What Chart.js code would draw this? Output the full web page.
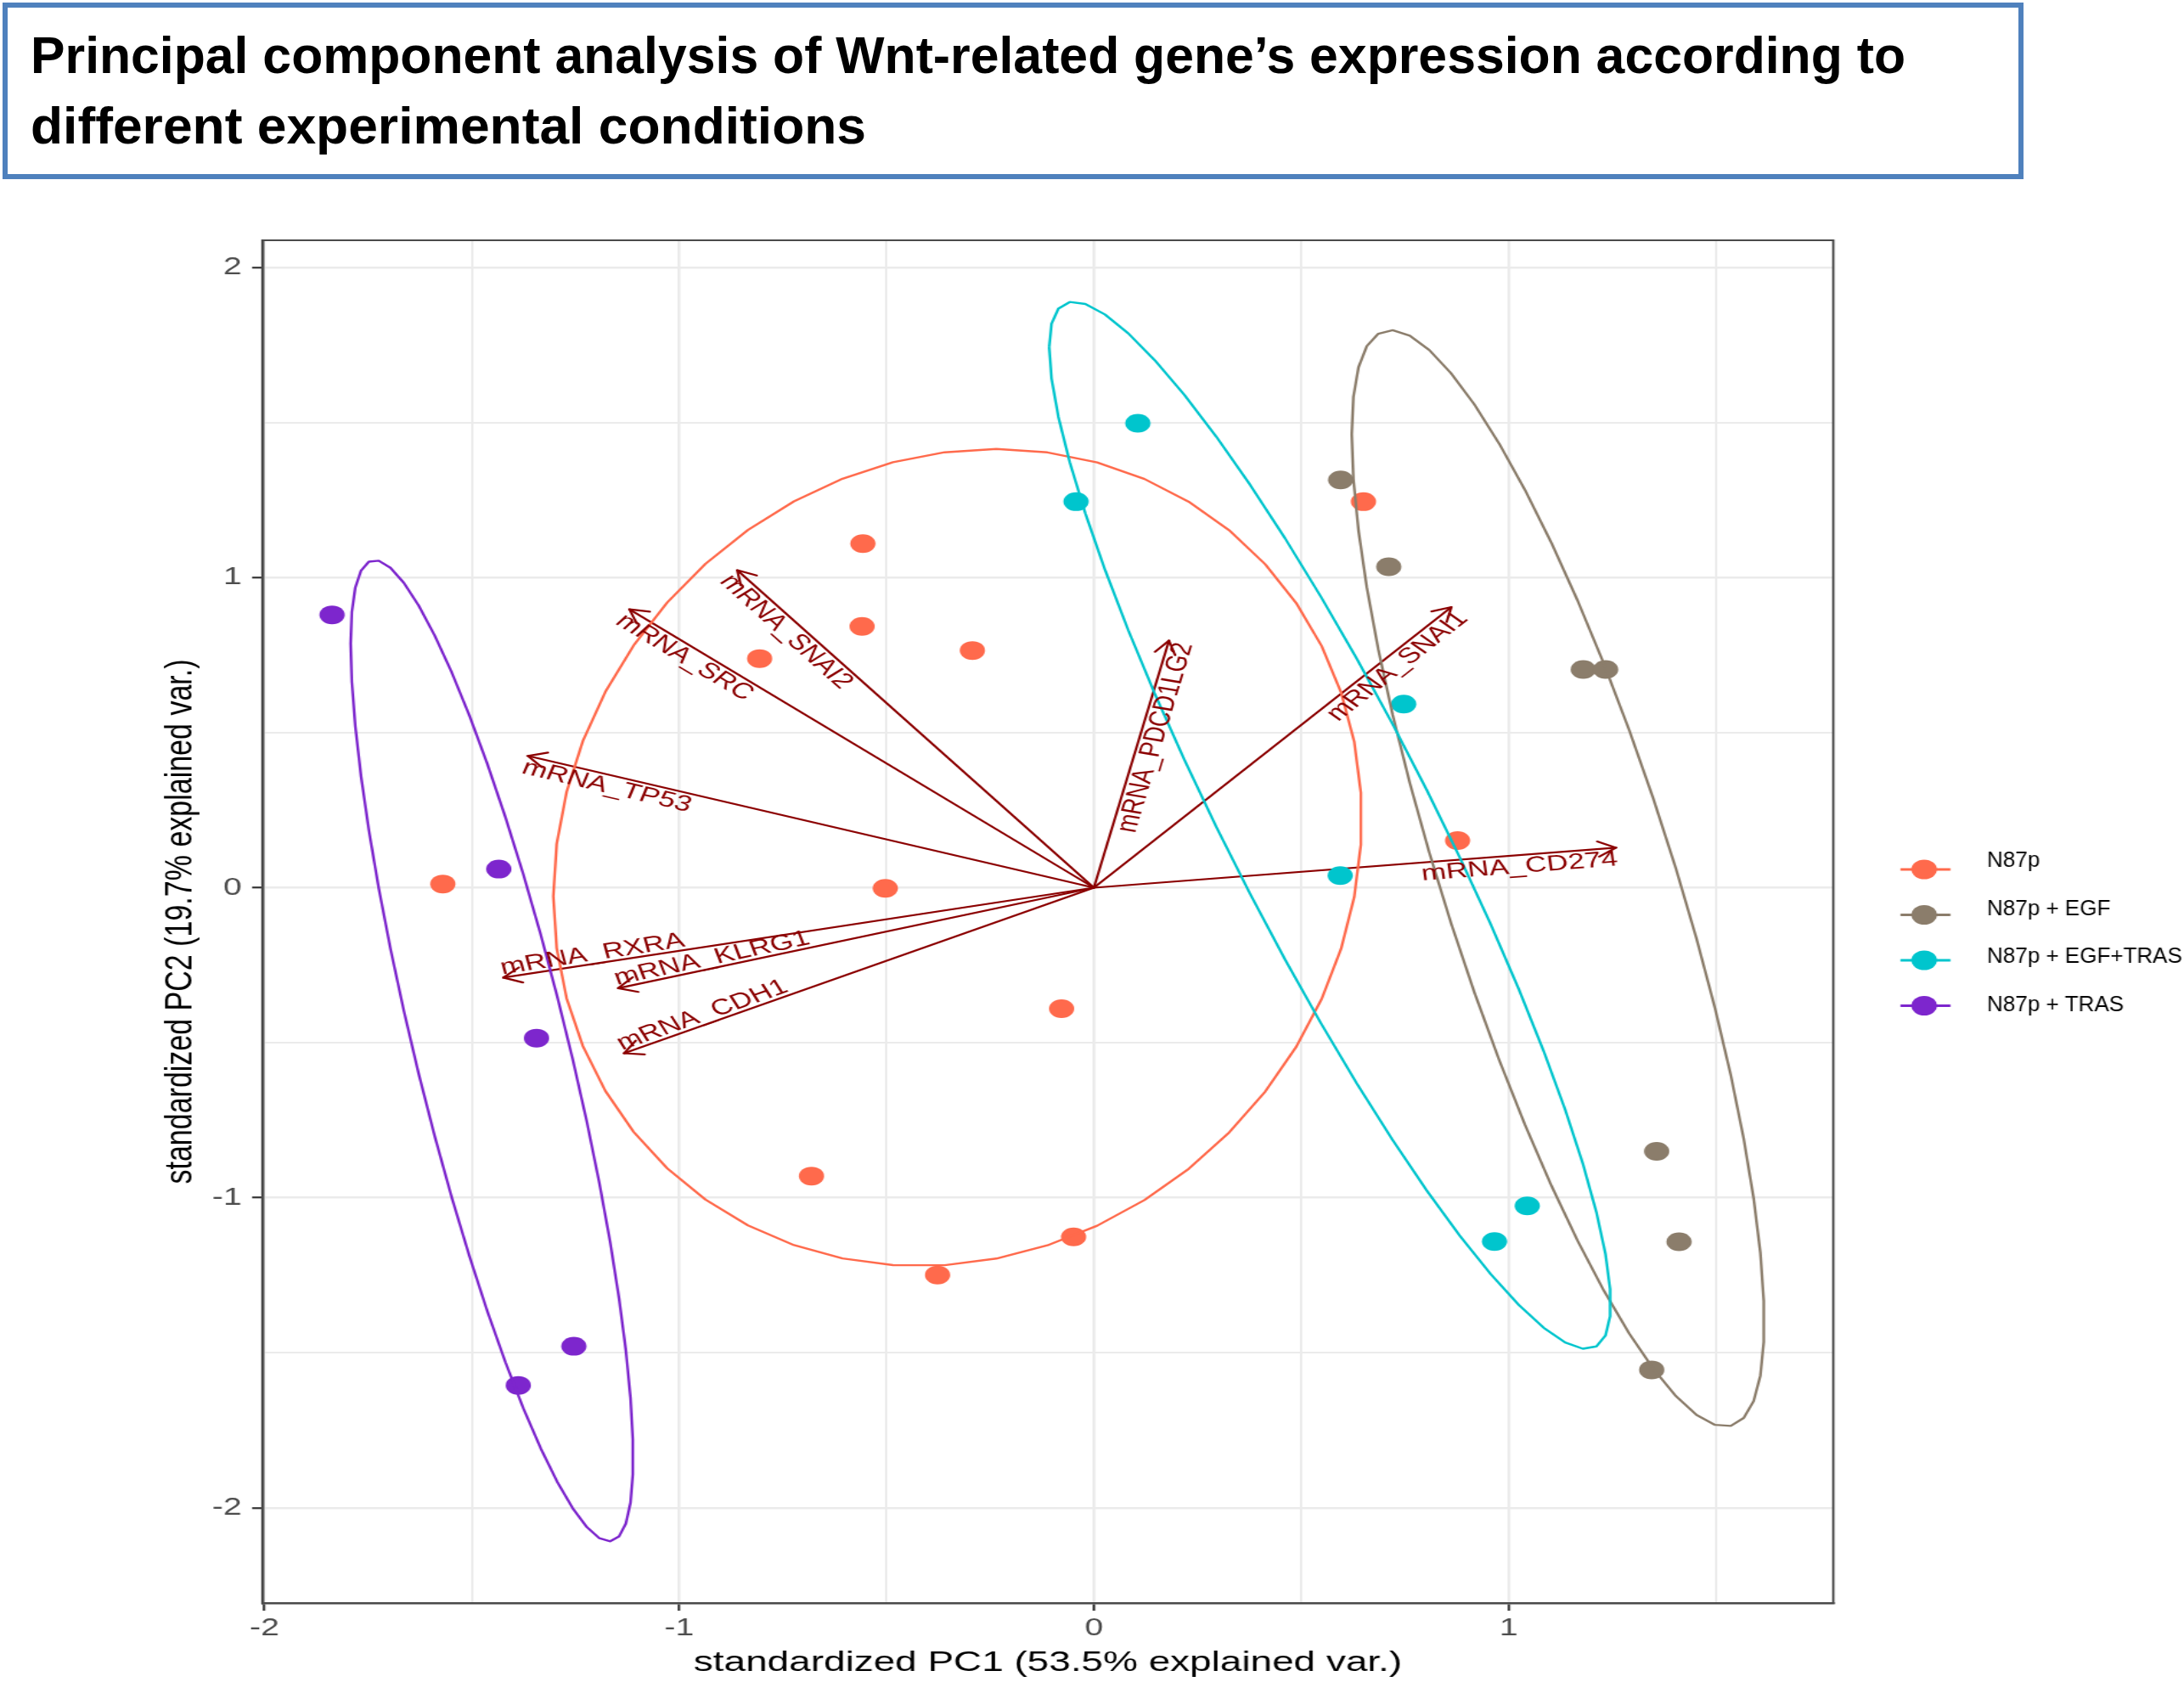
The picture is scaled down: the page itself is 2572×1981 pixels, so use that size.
<!DOCTYPE html>
<html>
<head>
<meta charset="utf-8">
<script src="https://cdn.jsdelivr.net/npm/chart.js@4.4.1/dist/chart.umd.min.js"></script>
<style>
  html, body { margin: 0; padding: 0; background: #ffffff; }
  body { position: relative; width: 2572px; height: 1981px; overflow: hidden; }
  #c { position: absolute; left: 0; top: 0; transform: scaleX(1.35); transform-origin: 0 0; }
  #tbox { position: absolute; left: 3px; top: 3px; width: 2380px; height: 208px; border: 6px solid #4F81BD; box-sizing: border-box; background: #fff; z-index: 2; }
  .tl { position: absolute; left: 36px; font-family: "Liberation Sans Narrow", "Liberation Sans", Arial, sans-serif; font-weight: bold; font-size: 61px; line-height: 61px; white-space: nowrap; color: #000; transform-origin: 0 0; z-index: 3; }
</style>
</head>
<body>
<canvas id="c" width="1906" height="1981"></canvas>
<div id="tbox"></div>
<div class="tl" id="t1" style="top:35px"><span>Principal component analysis of Wnt-related gene’s expression according to</span></div>
<div class="tl" id="t2" style="top:118px"><span>different experimental conditions</span></div>
<script>
// ---------------- data ----------------
const groupNames = ['N87p', 'N87p + EGF', 'N87p + EGF+TRAS', 'N87p + TRAS'];
const groupColors = ['#FF6A4C', '#8B7D6B', '#00C5CD', '#7D26CD'];

const n87pPC1 = [-0.557, -0.559, -0.806, -0.293, -1.570, -0.503, -0.078, -0.681, -0.049, -0.377, 0.650, 0.877];
const n87pPC2 = [1.110, 0.843, 0.739, 0.765, 0.012, -0.002, -0.390, -0.930, -1.126, -1.249, 1.245, 0.152];

const egfPC1 = [0.595, 0.711, 1.180, 1.234, 1.357, 1.411, 1.345];
const egfPC2 = [1.315, 1.035, 0.704, 0.704, -0.850, -1.142, -1.555];

const egfTrasPC1 = [0.106, -0.043, 0.747, 0.594, 1.045, 0.966];
const egfTrasPC2 = [1.498, 1.245, 0.592, 0.039, -1.026, -1.141];

const trasPC1 = [-1.837, -1.435, -1.344, -1.254, -1.388];
const trasPC2 = [0.880, 0.060, -0.485, -1.479, -1.605];

const geneNames = ['mRNA_SNAI2', 'mRNA_SRC', 'mRNA_TP53', 'mRNA_RXRA', 'mRNA_KLRG1', 'mRNA_CDH1', 'mRNA_PDCD1LG2', 'mRNA_SNAI1', 'mRNA_CD274'];
const genePC1 = [-0.860, -1.120, -1.365, -1.424, -1.147, -1.133, 0.181, 0.862, 1.259];
const genePC2 = [1.024, 0.898, 0.425, -0.290, -0.324, -0.534, 0.797, 0.905, 0.129];

const xTickLabels = [-2, -1, 0, 1];
const xMinorTicks = [-1.5, -0.5, 0.5, 1.5];
const yTickLabels = [-2, -1, 0, 1, 2];
const yMinorTicks = [-1.5, -0.5, 0.5, 1.5];

const xTitle = 'standardized PC1 (53.5% explained var.)';
const yTitle = 'standardized PC2 (19.7% explained var.)';
const ellipseProb = 0.68;

// ---------------- layout / style ----------------
const S = 1.35;               // horizontal stretch of the original figure
const CW = 1906, CH = 1981;
const AREA = { left: 309 / S, right: 2159 / S, top: 283, bottom: 1888 };
const ARROW_COLOR = '#8B0000';
const FONT = '"Liberation Sans", Arial, sans-serif';

const groupsPC1 = [n87pPC1, egfPC1, egfTrasPC1, trasPC1];
const groupsPC2 = [n87pPC2, egfPC2, egfTrasPC2, trasPC2];

const datasets = groupNames.map((name, g) => ({
  label: name,
  data: groupsPC1[g].map((v, i) => ({ x: v, y: groupsPC2[g][i] })),
  backgroundColor: groupColors[g],
  borderColor: groupColors[g],
  borderWidth: 0,
  pointRadius: 11,
  pointHoverRadius: 11,
  showLine: false
}));

function ellipseFor(xs, ys) {
  const n = xs.length;
  const mx = xs.reduce((a, b) => a + b, 0) / n;
  const my = ys.reduce((a, b) => a + b, 0) / n;
  let sxx = 0, syy = 0, sxy = 0;
  for (let i = 0; i < n; i++) {
    sxx += (xs[i] - mx) ** 2; syy += (ys[i] - my) ** 2; sxy += (xs[i] - mx) * (ys[i] - my);
  }
  sxx /= (n - 1); syy /= (n - 1); sxy /= (n - 1);
  const a = Math.sqrt(sxx), b = sxy / a, c = Math.sqrt(Math.max(syy - b * b, 0));
  const ed = Math.sqrt(-2 * Math.log(1 - ellipseProb));
  const pts = [];
  for (let k = 0; k < 50; k++) {
    const t = -Math.PI + 2 * Math.PI * k / 49;
    pts.push([mx + ed * a * Math.cos(t), my + ed * (b * Math.cos(t) + c * Math.sin(t))]);
  }
  return pts;
}

const biplotPlugin = {
  id: 'biplot',
  beforeDatasetsDraw(chart) {
    const { ctx, scales: { x, y }, chartArea: a } = chart;
    ctx.save();
    ctx.beginPath(); ctx.rect(a.left, a.top, a.right - a.left, a.bottom - a.top); ctx.clip();
    const ox = x.getPixelForValue(0), oy = y.getPixelForValue(0);
    ctx.strokeStyle = ARROW_COLOR; ctx.lineWidth = 2.2; ctx.lineCap = 'round';
    geneNames.forEach((n, i) => {
      const tx = x.getPixelForValue(genePC1[i]), ty = y.getPixelForValue(genePC2[i]);
      ctx.beginPath(); ctx.moveTo(ox, oy); ctx.lineTo(tx, ty); ctx.stroke();
      const ang = Math.atan2(ty - oy, tx - ox), head = 18;
      ctx.beginPath();
      [1, -1].forEach(sg => {
        ctx.moveTo(tx, ty);
        ctx.lineTo(tx - head * Math.cos(ang + sg * Math.PI / 6), ty - head * Math.sin(ang + sg * Math.PI / 6));
      });
      ctx.stroke();
    });
    ctx.restore();
  },
  afterDatasetsDraw(chart) {
    const { ctx, scales: { x, y }, chartArea: a } = chart;
    ctx.save();
    ctx.beginPath(); ctx.rect(a.left, a.top, a.right - a.left, a.bottom - a.top); ctx.clip();
    // confidence ellipses computed from the group points
    chart.data.datasets.forEach((ds, g) => {
      const pts = ellipseFor(ds.data.map(p => p.x), ds.data.map(p => p.y));
      ctx.beginPath();
      pts.forEach((p, k) => {
        const px = x.getPixelForValue(p[0]), py = y.getPixelForValue(p[1]);
        if (k === 0) ctx.moveTo(px, py); else ctx.lineTo(px, py);
      });
      ctx.strokeStyle = ds.borderColor; ctx.lineWidth = 2.4; ctx.lineJoin = 'round';
      ctx.stroke();
    });
    // variable labels
    const ox = x.getPixelForValue(0), oy = y.getPixelForValue(0);
    ctx.fillStyle = ARROW_COLOR;
    ctx.font = '26px ' + FONT;
    geneNames.forEach((n, i) => {
      const tx = x.getPixelForValue(genePC1[i]), ty = y.getPixelForValue(genePC2[i]);
      const ang = Math.atan((ty - oy) / (tx - ox));
      ctx.save();
      ctx.translate(tx, ty);
      ctx.rotate(ang);
      ctx.textAlign = genePC1[i] > 0 ? 'right' : 'left';
      ctx.textBaseline = 'alphabetic';
      const off = genePC2[i] > 0 ? 21 : -4;
      ctx.fillText(n, 0, off);
      ctx.restore();
    });
    ctx.restore();
  },
  afterDraw(chart) {
    const { ctx, chartArea: a } = chart;
    ctx.save();
    ctx.strokeStyle = '#4a4a4a'; ctx.lineWidth = 2;
    ctx.strokeRect(a.left, a.top, a.right - a.left, a.bottom - a.top);
    ctx.restore();
    // legend (drawn in final, unstretched coordinates)
    ctx.save();
    ctx.scale(1 / S, 1);
    chart.data.datasets.forEach((ds, g) => {
      const ky = 1024 + g * 53.5;
      ctx.strokeStyle = ds.borderColor; ctx.lineWidth = 3;
      ctx.beginPath(); ctx.moveTo(2238, ky); ctx.lineTo(2297, ky); ctx.stroke();
      ctx.fillStyle = ds.backgroundColor;
      ctx.beginPath(); ctx.ellipse(2266, ky, 15, 11.5, 0, 0, Math.PI * 2); ctx.fill();
      ctx.fillStyle = '#000';
      ctx.font = '26px ' + FONT;
      ctx.textBaseline = 'middle'; ctx.textAlign = 'left';
      ctx.fillText(ds.label, 2340, 1014 + g * 56.5);
    });
    ctx.restore();
  }
};

const isMajor = (v, arr) => arr.some(t => Math.abs(t - v) < 1e-9);

new Chart(document.getElementById('c'), {
  type: 'scatter',
  data: { datasets },
  plugins: [biplotPlugin],
  options: {
    responsive: false,
    animation: false,
    devicePixelRatio: 1,
    events: [],
    layout: { padding: { left: 0, top: AREA.top, right: CW - AREA.right, bottom: 0 } },
    plugins: { legend: { display: false }, tooltip: { enabled: false } },
    scales: {
      x: {
        type: 'linear', min: -2.005, max: 1.783,
        afterFit: s => { s.height = CH - AREA.bottom; },
        afterBuildTicks: s => { s.ticks = xTickLabels.concat(xMinorTicks).sort((p, q) => p - q).map(v => ({ value: v })); },
        ticks: {
          autoSkip: false, maxRotation: 0, padding: 4,
          color: '#4D4D4D', font: { family: FONT, size: 29 },
          callback: v => isMajor(v, xTickLabels) ? String(v) : ''
        },
        grid: {
          color: '#EBEBEB',
          lineWidth: c => (c.tick && isMajor(c.tick.value, xTickLabels)) ? 2.5 : 2,
          tickLength: 9, tickWidth: 2.2,
          tickColor: c => (c.tick && isMajor(c.tick.value, xTickLabels)) ? '#333333' : 'rgba(0,0,0,0)'
        },
        border: { display: true, color: '#444444', width: 2.5 },
        title: { display: true, text: xTitle, color: '#000', font: { family: FONT, size: 34 }, padding: { top: 0, bottom: 2 } }
      },
      y: {
        type: 'linear', min: -2.307, max: 2.088,
        afterFit: s => { s.width = AREA.left; },
        afterBuildTicks: s => { s.ticks = yTickLabels.concat(yMinorTicks).sort((p, q) => p - q).map(v => ({ value: v })); },
        ticks: {
          autoSkip: false, padding: 9,
          color: '#4D4D4D', font: { family: FONT, size: 29 },
          callback: v => isMajor(v, yTickLabels) ? String(v) : ''
        },
        grid: {
          color: '#EBEBEB',
          lineWidth: c => (c.tick && isMajor(c.tick.value, yTickLabels)) ? 2.5 : 2,
          tickLength: 9, tickWidth: 2.2,
          tickColor: c => (c.tick && isMajor(c.tick.value, yTickLabels)) ? '#333333' : 'rgba(0,0,0,0)'
        },
        border: { display: true, color: '#444444', width: 2.5 },
        title: { display: true, text: yTitle, color: '#000', font: { family: FONT, size: 34 }, padding: { top: 137, bottom: 0 } }
      }
    }
  }
});

// fit the title lines to the reference widths
(function () {
  const w1 = document.querySelector('#t1 span').getBoundingClientRect().width;
  const w2 = document.querySelector('#t2 span').getBoundingClientRect().width;
  document.getElementById('t1').style.transform = 'scaleX(' + (2208 / w1) + ')';
  document.getElementById('t2').style.transform = 'scaleX(' + (984 / w2) + ')';
})();
</script>
</body>
</html>
